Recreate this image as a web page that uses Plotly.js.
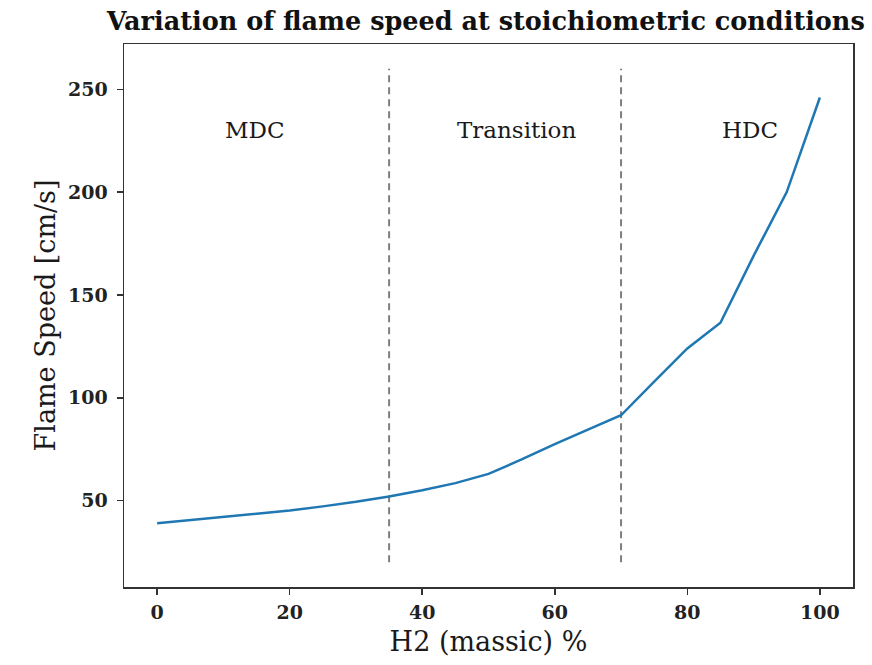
<!DOCTYPE html>
<html>
<head>
<meta charset="utf-8">
<script src="https://cdn.plot.ly/plotly-3.0.1.min.js"></script>
<style>html,body{margin:0;padding:0;background:#fff;}#chart{width:872px;height:665px;}</style>
</head>
<body>
<div id="chart"></div>
<script>
// Data
const h2Percent = [0, 5, 10, 15, 20, 25, 30, 35, 40, 45, 50, 55, 60, 65, 70, 75, 80, 85, 90, 95, 100];
const flameSpeed = [39, 40.5, 42, 43.6, 45.2, 47.2, 49.4, 52, 55, 58.5, 63, 70, 77.5, 84.5, 91.5, 107.8, 124, 136.5, 169, 200, 246];
const boundaries = [35, 70];
const boundaryRange = [20, 260];
const regionLabels = ["MDC", "Transition", "HDC"];
const regionLabelX = [10, 45, 85];
const regionLabelY = 230;
const xTicks = [0, 20, 40, 60, 80, 100];
const yTicks = [50, 100, 150, 200, 250];

const serif = "DejaVu Serif, Liberation Serif, serif";

const traces = [];
boundaries.forEach(b => {
  traces.push({
    x: [b, b], y: boundaryRange, mode: "lines", type: "scatter",
    line: {color: "#7f7f7f", width: 2, dash: "7px,5px"},
    hoverinfo: "skip", showlegend: false
  });
});
traces.push({
  x: h2Percent, y: flameSpeed, mode: "lines", type: "scatter",
  line: {color: "#1f77b4", width: 2.5}, showlegend: false
});

const annotations = regionLabels.map((t, i) => ({
  x: regionLabelX[i], y: regionLabelY, xref: "x", yref: "y",
  text: t, showarrow: false, xanchor: "left", yanchor: "middle",
  font: {family: serif, size: 23, color: "#1a1a1a"}
}));

const layout = {
  width: 872, height: 665,
  margin: {l: 124, r: 19, t: 44, b: 78},
  paper_bgcolor: "#fff", plot_bgcolor: "#fff",
  title: {text: "<b>Variation of flame speed at stoichiometric conditions</b>",
          font: {family: serif, size: 25.5, color: "#111"},
          x: 0.557, xanchor: "center", y: 0.968, yanchor: "middle"},
  xaxis: {
    range: [-5, 105], tickvals: xTicks, ticktext: xTicks.map(v => "<b>" + v + "</b>"),
    ticks: "outside", ticklen: 6, tickwidth: 1.5, tickcolor: "#333",
    ticklabelstandoff: 2,
    showline: true, mirror: true, linecolor: "#333", linewidth: 1.5,
    showgrid: false, zeroline: false,
    tickfont: {family: serif, size: 19, color: "#222"},
    title: {text: "H2 (massic) %", font: {family: serif, size: 27, color: "#1a1a1a"}, standoff: 10}
  },
  yaxis: {
    range: [8, 272], tickvals: yTicks, ticktext: yTicks.map(v => "<b>" + v + "</b>"),
    ticks: "outside", ticklen: 6, tickwidth: 1.5, tickcolor: "#333",
    ticklabelstandoff: 5,
    showline: true, mirror: true, linecolor: "#333", linewidth: 1.5,
    showgrid: false, zeroline: false,
    tickfont: {family: serif, size: 19, color: "#222"},
    title: {text: "Flame Speed [cm/s]", font: {family: serif, size: 27, color: "#1a1a1a"}, standoff: 4}
  },
  annotations: annotations
};

Plotly.newPlot("chart", traces, layout, {displayModeBar: false, staticPlot: true});
</script>
</body>
</html>
